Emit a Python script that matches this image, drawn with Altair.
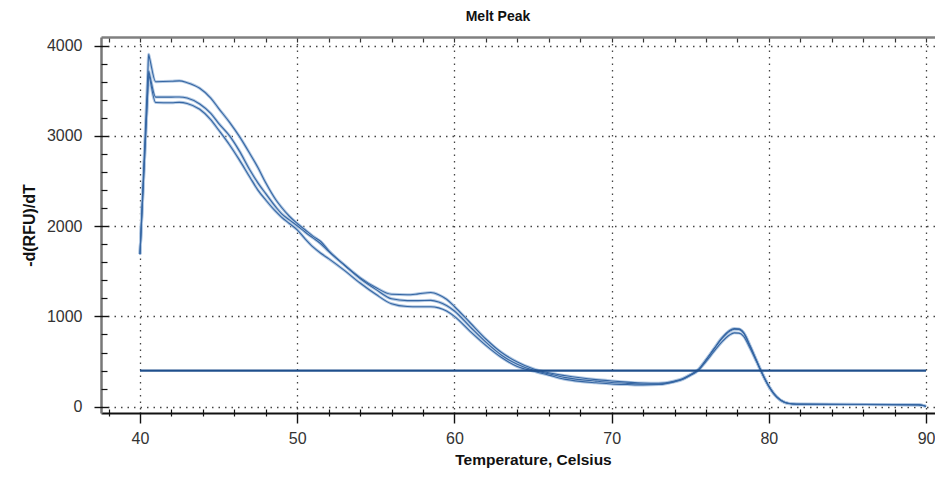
import altair as alt
import pandas as pd

# ---- data ----
temps = [40, 40.5, 40.55, 40.6, 41, 42, 42.5, 43, 43.8, 44.5, 45, 45.7, 46.3, 47, 47.5, 48, 48.65,
         49, 49.5, 50, 50.5, 51, 51.5, 52, 53, 54, 55, 56, 57, 57.7, 58.5, 59, 59.5,
         60, 61, 62, 63, 64, 65, 66, 67, 68, 69, 70, 71, 72, 73, 74, 74.5, 75, 75.5,
         76, 76.5, 77, 77.5, 77.8, 78.1, 78.4, 78.8, 79.2, 79.5, 80, 80.5, 81, 81.5,
         82, 85, 88, 89.5, 89.8, 90]

rfu_a = [1690, 3704, 3905, 3871, 3600, 3605, 3610, 3590, 3528, 3420, 3306, 3150, 3000, 2800, 2650, 2480, 2290,
         2210, 2110, 2030, 1960, 1890, 1830, 1730, 1570, 1430, 1320, 1245, 1240, 1250, 1265, 1240, 1190,
         1110, 930, 750, 600, 495, 420, 375, 345, 320, 300, 285, 272, 262, 260, 285, 310, 355, 410,
         520, 640, 760, 845, 865, 862, 820, 680, 520, 400, 230, 110, 50, 32,
         28, 26, 24, 22, 15, 3]

rfu_b = [1690, 3535, 3720, 3688, 3430, 3430, 3432, 3420, 3354, 3250, 3140, 3000, 2840, 2620, 2480, 2360, 2210,
         2140, 2070, 2005, 1935, 1870, 1805, 1720, 1570, 1420, 1300, 1195, 1175, 1175, 1178, 1160, 1120,
         1060, 885, 715, 570, 470, 405, 365, 325, 300, 283, 268, 258, 250, 250, 280, 305, 350, 405,
         515, 635, 750, 835, 858, 855, 815, 670, 515, 398, 228, 108, 48, 30,
         27, 25, 23, 21, 14, 3]

rfu_c = [1690, 3508, 3690, 3654, 3370, 3368, 3372, 3360, 3295, 3180, 3066, 2900, 2740, 2540, 2400, 2290, 2160,
         2100, 2030, 1960, 1860, 1770, 1700, 1640, 1510, 1370, 1245, 1140, 1110, 1108, 1108, 1095, 1060,
         1000, 835, 680, 545, 445, 395, 350, 305, 280, 265, 252, 245, 240, 245, 275, 300, 345, 400,
         500, 610, 715, 795, 818, 815, 780, 650, 505, 392, 222, 105, 46, 29,
         26, 24, 22, 20, 13, 3]

wells = ["Well 1", "Well 2", "Well 3"]
threshold_temps = [40, 90]
threshold_value = 400

x_major = [40, 50, 60, 70, 80, 90]
x_minor = [38, 42, 44, 46, 48, 52, 54, 56, 58, 62, 64, 66, 68, 72, 74, 76, 78, 82, 84, 86, 88]
x_top = [38, 40, 42, 44, 46, 48, 50, 52, 54, 56, 58, 60, 62, 64, 66, 68, 70, 72, 74, 76, 78,
         80, 82, 84, 86, 88, 90]
y_major = [0, 1000, 2000, 3000, 4000]
y_minor = [200, 400, 600, 800, 1200, 1400, 1600, 1800, 2200, 2400, 2600, 2800,
           3200, 3400, 3600, 3800]

# ---- tables ----
rows = []
for w, vals in zip(wells, [rfu_a, rfu_b, rfu_c]):
    for t, v in zip(temps, vals):
        rows.append({"T": t, "v": v, "well": w})
df = pd.DataFrame(rows)
thr = pd.DataFrame({"T": threshold_temps, "v": [threshold_value] * len(threshold_temps)})

font = "Liberation Sans"
xs = alt.Scale(domain=[37.52, 90.57], nice=False, zero=False)
ys = alt.Scale(domain=[-70, 4096], nice=False, zero=False)

grid_kw = dict(grid=True, gridDash=[1.5, 5], gridColor="#444", gridWidth=1.3)

main_x = alt.Axis(orient="bottom", values=x_major, ticks=False, tickSize=0, format="d",
                  domainColor="#111", domainWidth=2, labelFont=font, labelFontSize=16,
                  labelColor="#333", labelPadding=17, labelFlush=False, labelOverlap=False,
                  title="Temperature, Celsius", titleFont=font, titleFontSize=15.5,
                  titleFontWeight="bold", titleColor="#111", titleX=432, titleY=46,
                  titleAlign="center", titleBaseline="middle", **grid_kw)
main_y = alt.Axis(orient="left", values=y_major, ticks=False, tickSize=0, format="d",
                  domainColor="#777", domainWidth=2.5, labelFont=font, labelFontSize=16,
                  labelColor="#333", labelPadding=19, labelOverlap=False,
                  title="-d(RFU)/dT", titleFont=font, titleFontSize=16, titleFontWeight="bold",
                  titleColor="#111", titleX=-72, titleY=188, titleAngle=270,
                  titleAlign="center", titleBaseline="middle", **grid_kw)

def tick_axis(orient, values, offset, size, width=1.4, color="#111"):
    return alt.Axis(orient=orient, values=values, offset=offset, tickSize=size,
                    tickWidth=width, tickColor=color, domain=False, labels=False,
                    grid=False, title="")

halo = alt.Chart(df).mark_line(interpolate="monotone", strokeWidth=3, color="#b3c9e3").encode(
    x=alt.X("T:Q", scale=xs, axis=main_x),
    y=alt.Y("v:Q", scale=ys, axis=main_y),
    detail="well:N",
)
core = alt.Chart(df).mark_line(interpolate="monotone", strokeWidth=1.1, color="#3566a3").encode(
    x=alt.X("T:Q", scale=xs, axis=tick_axis("bottom", x_major, -1, 11)),
    y=alt.Y("v:Q", scale=ys, axis=tick_axis("left", y_major, -7, 14)),
    detail="well:N",
)
threshold = alt.Chart(thr).mark_line(strokeWidth=2.2, color="#1f4f8c").encode(
    x=alt.X("T:Q", scale=xs, axis=tick_axis("bottom", x_minor, -4, 7, 1.2)),
    y=alt.Y("v:Q", scale=ys, axis=tick_axis("left", y_minor, -6, 6, 1.2)),
)
top_ticks = alt.Chart(thr).mark_line(opacity=0).encode(
    x=alt.X("T:Q", scale=xs, axis=tick_axis("top", x_top, -5, 5, 1.2, "#333")),
    y=alt.Y("v:Q", scale=ys, axis=None),
)
top_frame = alt.Chart(thr).mark_line(opacity=0).encode(
    x=alt.X("T:Q", scale=xs, axis=alt.Axis(orient="top", values=x_top, ticks=False,
                                           labels=False, grid=False, domain=True,
                                           domainColor="#808080", domainWidth=2.5, title="")),
    y=alt.Y("v:Q", scale=ys, axis=None),
)

chart = alt.layer(halo, core, threshold, top_ticks, top_frame).resolve_axis(
    x="independent", y="independent"
).properties(
    width=834,
    height=376,
    autosize=alt.AutoSizeParams(type="none"),
    padding={"left": 93, "top": 29, "right": 0, "bottom": 56},
    title=alt.TitleParams("Melt Peak", font=font, fontSize=14, fontWeight="bold",
                          color="#111", anchor="middle", dx=-20, offset=12),
).configure_view(strokeWidth=0)

chart.save("out.html", embed_options={"renderer": "svg", "actions": False})
